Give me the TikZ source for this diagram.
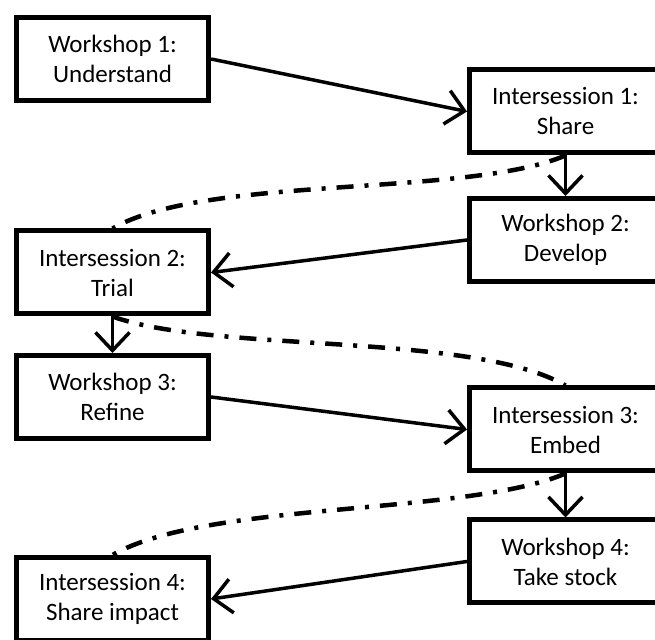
\documentclass[tikz,border=0pt]{standalone}
\usepackage{fontspec}
\setmainfont{Carlito}
\usetikzlibrary{arrows.meta}
\tikzset{
	every node/.style={line width=5pt,fill=white,draw=black,shape=rectangle,align=center,
		minimum width=192pt,minimum height=83pt,inner sep=0pt,font=\fontsize{25}{30}\selectfont},
	every edge/.style={line width=3.5pt,draw=black},
}
\tikzstyle{arrow} = [-{Straight Barb[length=18pt,width=34pt]}]
\tikzstyle{link} = [line width=4.5pt,dash pattern=on 17pt off 11pt on 4pt off 11pt,looseness=0.6]

\begin{document}
\begin{tikzpicture}[x=1pt,y=1pt]
	\clip (0,0) rectangle (655,639);
	\node (W1) at (112.5,580) {Workshop 1:\\Understand};
	\node (I1) at (565.5,527.5) {Intersession 1:\\Share};
	\node (W2) at (565.5,399) {Workshop 2:\\Develop};
	\node (I2) at (112.5,366.5) {Intersession 2:\\Trial};
	\node (W3) at (112.5,242) {Workshop 3:\\Refine};
	\node (I3) at (565.5,209.5) {Intersession 3:\\Embed};
	\node (W4) at (565.5,77.5) {Workshop 4:\\Take stock};
	\node (I4) at (112.5,40) {Intersession 4:\\Share impact};
	
	\path (W1.east) edge[arrow] (I1.west);
	\path (I1.south) edge[arrow] (W2.north);
	\path (W2.west) edge[arrow] (I2.east);
	\path (I2.south) edge[arrow] (W3.north);
	\path (W3.east) edge[arrow] (I3.west);
	\path (I3.south) edge[arrow] (W4.north);
	\path (W4.west) edge[arrow] (I4.east);
	
	\path (I1.south) edge[link,out=203,in=30] (I2.north);
	\path (I2.south) edge[link,out=-20,in=150] (I3.north);
	\path (I3.south) edge[link,out=203,in=30] (I4.north);
\end{tikzpicture}
\end{document}
